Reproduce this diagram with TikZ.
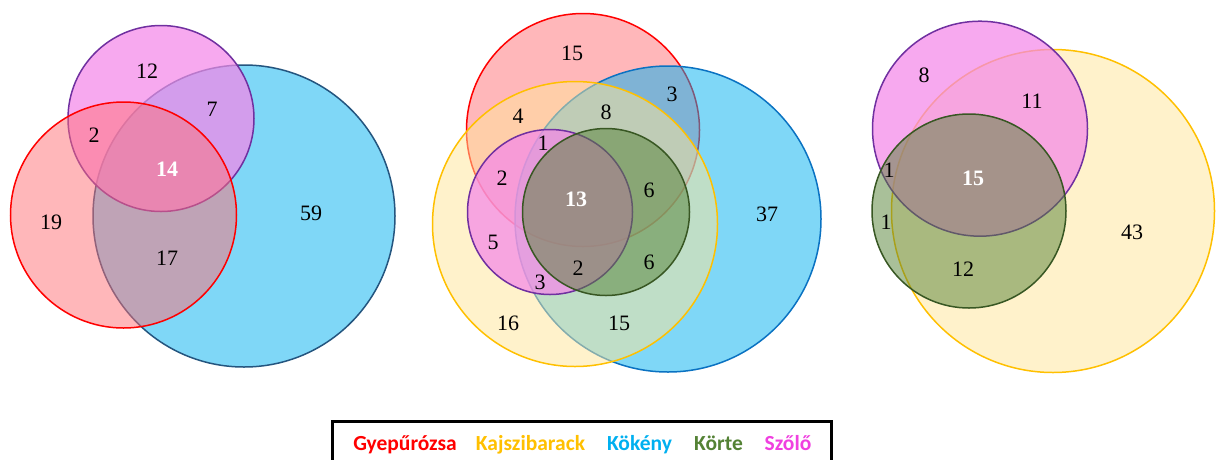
\documentclass[tikz,border=0pt]{standalone}
\usepackage{fontspec}
\setmainfont{Liberation Serif}
\newfontfamily\legendfont{Carlito}
\definecolor{redfill}{HTML}{FF7077}
\definecolor{redline}{HTML}{FF0000}
\definecolor{bluefill}{HTML}{00B0F0}
\definecolor{bluelineA}{HTML}{24557F}
\definecolor{bluelineB}{HTML}{0A72C2}
\definecolor{magfill}{HTML}{F488E9}
\definecolor{magline}{HTML}{7030A0}
\definecolor{yelfill}{HTML}{FFE699}
\definecolor{yelline}{HTML}{FFC000}
\definecolor{grnfill}{HTML}{548235}
\definecolor{grnline}{HTML}{385723}
\definecolor{legred}{HTML}{FF0000}
\definecolor{legyel}{HTML}{FFC000}
\definecolor{legblue}{HTML}{00B0F0}
\definecolor{leggrn}{HTML}{548235}
\definecolor{legmag}{HTML}{F040E0}
\begin{document}
\begin{tikzpicture}[x=1pt,y=-1pt,
  set/.style={line width=1.5pt, fill opacity=0.5},
  redset/.style={set, draw=redline, fill=redfill},
  blueAset/.style={set, draw=bluelineA, fill=bluefill},
  blueBset/.style={set, draw=bluelineB, fill=bluefill},
  magset/.style={set, draw=magline, fill=magfill, fill opacity=0.72},
  yelset/.style={set, draw=yelline, fill=yelfill},
  grnset/.style={set, draw=grnline, fill=grnfill},
  num/.style={font=\fontsize{22}{24}\selectfont, inner sep=0pt, text=black},
  bignum/.style={num, font=\fontsize{22}{24}\selectfont\bfseries, text=white},
  leg/.style={font=\legendfont\fontsize{21.5}{24}\selectfont\bfseries, anchor=base, inner sep=0pt}
]
\useasboundingbox (0,0) rectangle (1216,459);
\fill[white] (0,0) rectangle (1216,459);

% ---------- left diagram ----------
\draw[blueAset] (244,216) circle (151);
\draw[magset] (161,118.5) circle (93);
\draw[redset] (123.5,215) circle (113);
\node[num] (l12) at (147,71) {12};
\node[num] (l7) at (212,109) {7};
\node[num] (l2) at (94,135) {2};
\node[bignum] (l14) at (167,169) {14};
\node[num] (l19) at (51,222) {19};
\node[num] (l17) at (167,258) {17};
\node[num] (l59) at (311,213) {59};

% ---------- middle diagram ----------
\draw[redset] (583,130) circle (116.5);
\draw[blueBset] (668,219) circle (153);
\draw[yelset] (575,224) circle (142.5);
\draw[magset] (550,212) circle (82.5);
\draw[grnset] (606,212) circle (83.5);
\node[num] (m15a) at (572,53) {15};
\node[num] (m3a) at (672,94) {3};
\node[num] (m4) at (518,116) {4};
\node[num] (m8) at (606,112) {8};
\node[num] (m1) at (543,143) {1};
\node[num] (m2a) at (502,178) {2};
\node[bignum] (m13) at (576,199) {13};
\node[num] (m6a) at (649,190) {6};
\node[num] (m37) at (767,214) {37};
\node[num] (m5) at (493,242) {5};
\node[num] (m6b) at (649,262) {6};
\node[num] (m2b) at (578,268) {2};
\node[num] (m3b) at (540,282) {3};
\node[num] (m16) at (508,323) {16};
\node[num] (m15b) at (619,323) {15};

% ---------- right diagram ----------
\draw[yelset] (1053,211) circle (161.5);
\draw[magset] (980,128.7) circle (107.5);
\draw[grnset] (969,211) circle (97);
\node[num] (r8) at (924,75) {8};
\node[num] (r11) at (1032,101) {11};
\node[num] (r1a) at (889,170) {1};
\node[bignum] (r15) at (973,178) {15};
\node[num] (r1b) at (886,222) {1};
\node[num] (r43) at (1132,232) {43};
\node[num] (r12) at (963,269) {12};

% ---------- legend ----------
\draw[line width=3pt, black] (332,470) -- (332,421.5) -- (831,421.5) -- (831,470);
\node[leg, text=legred] (lg1) at (405,450) {Gyepűrózsa};
\node[leg, text=legyel] (lg2) at (530.5,450) {Kajszibarack};
\node[leg, text=legblue] (lg3) at (639.5,450) {Kökény};
\node[leg, text=leggrn] (lg4) at (718.5,450) {Körte};
\node[leg, text=legmag] (lg5) at (788,450) {Szőlő};
\end{tikzpicture}
\end{document}
